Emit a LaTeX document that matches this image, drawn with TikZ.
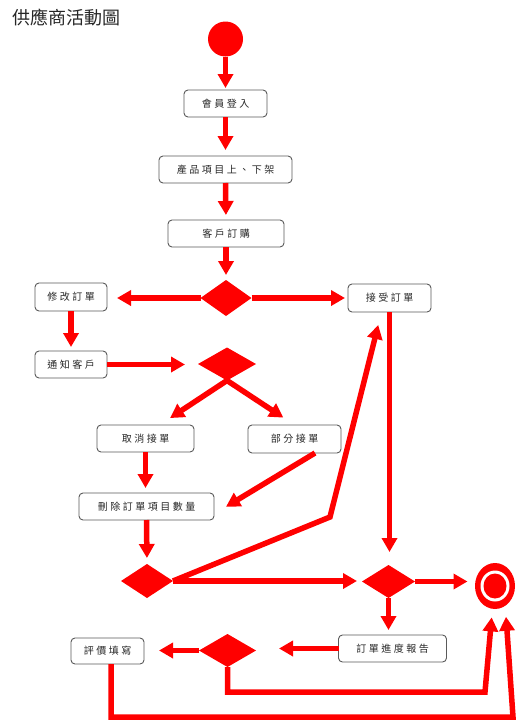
\documentclass[tikz,border=0pt]{standalone}
\usepackage{fontspec}
\setmainfont{Noto Sans CJK TC}
\newfontfamily\titlefont{Noto Sans CJK TC}
\newfontfamily\boxfont[LetterSpace=25]{Noto Sans CJK TC}
\usetikzlibrary{arrows.meta,shapes.geometric,calc}
\definecolor{flowred}{RGB}{255,0,0}
\definecolor{boxline}{RGB}{90,90,90}
\definecolor{boxtext}{RGB}{40,40,40}
\begin{document}
\begin{tikzpicture}[x=1pt,y=-1pt,
  actbox/.style={draw=boxline,line width=0.9pt,rounded corners=4pt,fill=white,
    inner sep=0pt,outer sep=0pt,font=\boxfont\fontsize{10}{10}\selectfont,text=boxtext},
  decision/.style={diamond,fill=flowred,draw=none,inner sep=0pt,outer sep=0pt},
  flow/.style={draw=flowred,line width=5.5pt,-{Triangle[length=14pt,width=15pt]}},
  plainflow/.style={draw=flowred,line width=5.5pt}
]
\useasboundingbox (0,0) rectangle (520,720);
\fill[white] (0,0) rectangle (520,720);

% title
\node[font=\titlefont\fontsize{18}{18}\selectfont,text=black!85,anchor=west,inner sep=0pt] (title) at (12,18) {供應商活動圖};

% start / end
\node[circle,fill=flowred,minimum size=35pt,inner sep=0pt,outer sep=0pt] (start) at (225.5,39) {};
\node[ellipse,fill=flowred,minimum width=40pt,minimum height=46pt,inner sep=0pt,outer sep=0pt] (end) at (495,586) {};
\fill[white] (end.center) ellipse [x radius=14.5pt,y radius=15.5pt];
\fill[flowred] (end.center) ellipse [x radius=11.5pt,y radius=12.5pt];

% activity boxes
\node[actbox,minimum width=83pt,minimum height=27pt] (login) at (225.5,103.5) {會員登入};
\node[actbox,minimum width=133pt,minimum height=27pt] (product) at (225.5,169.5) {產品項目上、下架};
\node[actbox,minimum width=116pt,minimum height=27pt] (order) at (226,233.5) {客戶訂購};
\node[actbox,minimum width=72pt,minimum height=28pt] (modify) at (71,297) {修改訂單};
\node[actbox,minimum width=83pt,minimum height=28pt] (accept) at (389.5,298) {接受訂單};
\node[actbox,minimum width=72pt,minimum height=27pt] (notify) at (71,364.5) {通知客戶};
\node[actbox,minimum width=97pt,minimum height=27pt] (cancel) at (145.5,438.5) {取消接單};
\node[actbox,minimum width=93pt,minimum height=28pt] (partial) at (294.5,439) {部分接單};
\node[actbox,minimum width=135pt,minimum height=27pt] (delete) at (146.5,506.5) {刪除訂單項目數量};
\node[actbox,minimum width=108pt,minimum height=27pt] (report) at (392.5,648.5) {訂單進度報告};
\node[actbox,minimum width=73pt,minimum height=26pt] (evalu) at (107.5,651) {評價填寫};

% decisions
\node[decision,minimum width=51pt,minimum height=36pt] (d1) at (226,298) {};
\node[decision,minimum width=58pt,minimum height=33pt] (d2) at (227,364) {};
\node[decision,minimum width=52pt,minimum height=34pt] (d3) at (147,581) {};
\node[decision,minimum width=53pt,minimum height=33pt] (d4) at (388.5,581.5) {};
\node[decision,minimum width=57pt,minimum height=33pt] (d5) at (227.5,650.5) {};

% bend coordinates
\coordinate (bend1) at (330,517);
\coordinate (bend2) at (485,692);
\coordinate (bend3) at (513,717);

% connectors
\draw[flow,shorten >=2pt] (start.south) -- (login.north);
\draw[flow,shorten >=6pt] (login.south) -- (product.north);
\draw[flow,shorten >=5pt] (product.south) -- (order.north);
\draw[flow,shorten >=5pt] (order.south) -- (d1.north);
\draw[flow,shorten >=10pt] (d1.west) -- (d1.west -| modify.east);
\draw[flow,shorten >=3pt] (d1.east) -- (d1.east -| accept.west);
\draw[flow,shorten >=4pt] (modify.south) -- (notify.north);
\draw[flow,shorten >=13pt] (notify.east) -- (notify.east -| d2.west);
\draw[flow,shorten >=12.6pt] (d2.south) -- ([xshift=14pt]cancel.north);
\draw[flow,shorten >=13.4pt] (d2.south) -- (partial.north);
\draw[flow,shorten >=5pt] (cancel.south) -- (cancel.south |- delete.north);
\draw[flow,shorten >=14pt] ([xshift=20.5pt]partial.south) -- ([yshift=-7.5pt]delete.east);
\draw[flow,shorten >=6pt] (delete.south) -- (d3.north);
\draw[flow,shorten >=5pt] (d3.east) -- (d3.east -| d4.west);
\draw[flow,shorten >=13.4pt] (d3.east) -- (bend1) -- ([xshift=-8pt]accept.south);
\draw[flow,shorten >=13pt] (accept.south) -- (accept.south |- d4.north);
\draw[flow,shorten >=7.5pt] (d4.east) -- (d4.east -| end.west);
\draw[flow,shorten >=5pt] (d4.south) -- (d4.south |- report.north);
\draw[flow,shorten >=23pt] (report.west) -- (report.west -| d5.east);
\draw[flow,shorten >=15pt] (d5.west) -- (d5.west -| evalu.east);
\draw[flow,shorten >=8.4pt] (d5.south) |- (bend2) -- ([xshift=-2.6pt]end.south);
\draw[flow,shorten >=7.8pt] ([xshift=3.5pt]evalu.south) |- (bend3) -- ([xshift=10.5pt]end.south);
\end{tikzpicture}
\end{document}
